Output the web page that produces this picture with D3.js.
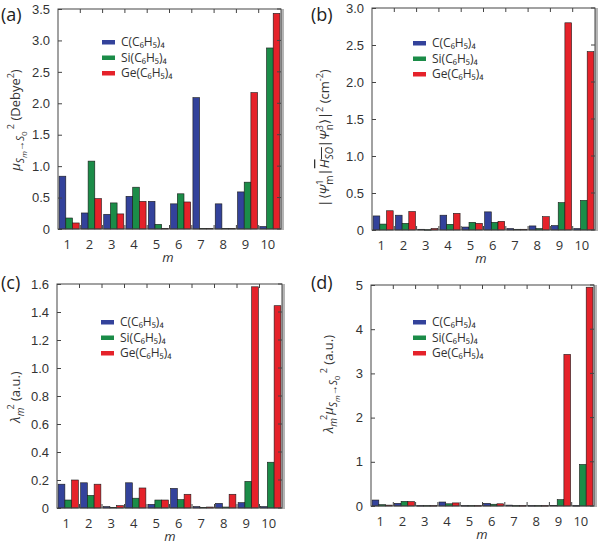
<!DOCTYPE html>
<html><head><meta charset="utf-8">
<script src="https://cdn.jsdelivr.net/npm/d3@7/dist/d3.min.js"></script>
<style>body{margin:0;background:#fff}svg{display:block;font-family:"Open Sans",sans-serif}</style>
</head><body><svg id="c" width="600" height="546"></svg>
<script>
const categories = [1,2,3,4,5,6,7,8,9,10];
const seriesNames = ["C(C₆H₅)₄","Si(C₆H₅)₄","Ge(C₆H₅)₄"];
const colors = ["#33429b","#1b8c48","#e5222a"];

// (a) mu^2 (Debye^2)
const aC  = [0.84,0.255,0.234,0.52,0.44,0.40,2.09,0.40,0.59,0.04];
const aSi = [0.175,1.08,0.415,0.665,0.074,0.56,0.01,0.01,0.745,2.88];
const aGe = [0.096,0.484,0.24,0.44,0.01,0.43,0.01,0.01,2.17,3.43];
// (b) |<psi|H_SO|psi>|^2 (cm^-2)
const bC  = [0.19,0.20,0.01,0.20,0.04,0.245,0.02,0.055,0.06,0.02];
const bSi = [0.08,0.09,0.005,0.077,0.104,0.104,0.01,0.02,0.37,0.40];
const bGe = [0.26,0.25,0.02,0.225,0.09,0.117,0.01,0.18,2.80,2.41];
// (c) lambda^2 (a.u.)
const cC  = [0.17,0.18,0.01,0.18,0.026,0.14,0.01,0.033,0.038,0.01];
const cSi = [0.057,0.09,0.005,0.07,0.057,0.06,0.005,0.007,0.19,0.327];
const cGe = [0.20,0.17,0.017,0.143,0.057,0.098,0.007,0.098,1.58,1.445];
// (d) lambda^2 mu^2 (a.u.)
const dC  = [0.135,0.06,0.01,0.09,0.01,0.06,0.02,0.01,0.015,0.01];
const dSi = [0.03,0.105,0.01,0.05,0.01,0.04,0.01,0.01,0.143,0.94];
const dGe = [0.02,0.10,0.01,0.07,0.01,0.05,0.01,0.01,3.43,4.95];

const aTicks = [0,0.5,1.0,1.5,2.0,2.5,3.0,3.5];
const bTicks = [0,0.5,1.0,1.5,2.0,2.5,3.0];
const cTicks = [0,0.2,0.4,0.6,0.8,1.0,1.2,1.4,1.6];
const dTicks = [0,1,2,3,4,5];

const svg = d3.select("#c");

function rich(sel, segs){
  let cur = 0;
  const off = {base:0, sub:4, subsub:7, sup:-6};
  const fs = {base:13, sub:10, subsub:8, sup:9};
  segs.forEach(s=>{
    const k = s.s || "base";
    const target = off[k];
    const ts = sel.append("tspan").text(s.t)
      .attr("dy", target - cur).style("font-size", fs[k]+"px");
    if (s.i) ts.style("font-style","italic");
    if (s.dx) ts.attr("dx", s.dx);
    if (s.o) ts.style("text-decoration","overline");
    cur = target;
  });
}

function panel(cfg){
  const g = svg.append("g");
  const x = d3.scaleBand().domain(categories).range([cfg.left, cfg.right]).paddingInner(0.1).paddingOuter(0.05);
  const xs = d3.scaleBand().domain([0,1,2]).range([0, x.bandwidth()]);
  const y = d3.scaleLinear().domain([0, cfg.ymax]).range([cfg.bottom, cfg.top]);
  const W = cfg.right - cfg.left;

  cfg.data.forEach((arr, si)=>{
    g.selectAll(null).data(arr).join("rect")
      .attr("x",(d,i)=>x(categories[i]) + xs(si))
      .attr("width", xs.bandwidth())
      .attr("y", d=>y(d))
      .attr("height", d=>Math.max(0.6, cfg.bottom - y(d)))
      .attr("fill", colors[si])
      .attr("stroke","#1a1a1a").attr("stroke-width",0.6);
  });

  g.append("rect").attr("x",cfg.right).attr("y",cfg.top).attr("width",3).attr("height",cfg.bottom-cfg.top+1).attr("fill","#b5b5b5");
  g.append("rect").attr("x",cfg.left).attr("y",cfg.top).attr("width",W).attr("height",cfg.bottom-cfg.top)
    .attr("fill","none").attr("stroke","#444").attr("stroke-width",1);

  const yAxis = d3.axisLeft(y).tickValues(cfg.ticks).tickSize(-4).tickPadding(8).tickFormat(cfg.fmt);
  const ya = g.append("g").attr("transform",`translate(${cfg.left},0)`).call(yAxis);
  ya.select(".domain").remove();
  ya.selectAll("line").attr("stroke","#444");
  ya.selectAll("text").style("font-size","13px").attr("fill","#333");
  g.selectAll(null).data(cfg.ticks).join("line")
    .attr("x1",cfg.right).attr("x2",cfg.right-4).attr("y1",d=>y(d)).attr("y2",d=>y(d)).attr("stroke","#444");
  const bounds = categories.slice(1).map(c=>x(c) - x.step()*x.paddingInner()/2);
  g.selectAll(null).data(bounds).join("line")
    .attr("x1",d=>d).attr("x2",d=>d).attr("y1",cfg.top).attr("y2",cfg.top+4).attr("stroke","#444");
  g.selectAll(null).data(bounds).join("line")
    .attr("x1",d=>d).attr("x2",d=>d).attr("y1",cfg.bottom).attr("y2",cfg.bottom-4).attr("stroke","#444");
  g.selectAll(null).data(categories).join("text")
    .attr("x",d=>x(d)+x.bandwidth()/2-2).attr("y",cfg.bottom+20)
    .attr("text-anchor","middle").style("font-size","13px").attr("fill","#333").text(d=>d);
  g.append("text").attr("x",cfg.xlabX).attr("y",cfg.bottom+33).attr("text-anchor","middle")
    .style("font-size","13px").style("font-style","italic").attr("fill","#333").text("m");

  g.append("text").attr("x",cfg.pl[0]).attr("y",cfg.pl[1]).style("font-size","18px").attr("fill","#222").text(cfg.label);

  const t = g.append("text").attr("transform",`translate(${cfg.yt[0]},${cfg.yt[1]}) rotate(-90)`)
    .attr("text-anchor","middle").attr("fill","#333");
  rich(t, cfg.ytitle);

  seriesNames.forEach((n,si)=>{
    const ly = cfg.leg[1] + si*15.5;
    g.append("rect").attr("x",cfg.leg[0]).attr("y",ly-2).attr("width",13).attr("height",4.5).attr("fill",colors[si]);
    g.append("text").attr("x",cfg.leg[0]+19).attr("y",ly+4).attr("fill","#333")
      .style("font-size","12px").text(n);
  });
}

const f1 = d=> d===0 ? "0" : d3.format(".1f")(d);
const muSegs = [{t:"μ",i:true},{t:"S",s:"sub",i:true},{t:"m",s:"subsub",i:true},{t:"→",s:"sub"},{t:"S",s:"sub",i:true},{t:"0",s:"subsub"},{t:" 2",s:"sup"}];

panel({left:58,right:281,top:9,bottom:229,ymax:3.5,ticks:aTicks,fmt:f1,data:[aC,aSi,aGe],
  label:"(a)",pl:[1,21],xlabX:168,leg:[102,42],yt:[20,120],
  ytitle: muSegs.concat([{t:" (Debye"},{t:"2",s:"sup"},{t:")"}])});
panel({left:372,right:595,top:8,bottom:230,ymax:3.0,ticks:bTicks,fmt:f1,data:[bC,bSi,bGe],
  label:"(b)",pl:[311,21],xlabX:481,leg:[413,43],yt:[329,138],
  ytitle:[{t:"|⟨"},{t:"Ψ",i:true},{t:"1",s:"sup"},{t:"m",s:"sub",dx:-5},{t:"|"},{t:"H",i:true,o:true},{t:"SO",s:"sub",i:true,o:true},{t:"|"},{t:"Ψ",i:true},{t:"3",s:"sup"},{t:"n",s:"sub",dx:-5},{t:"⟩|"},{t:"2",s:"sup"},{t:" (cm"},{t:"-2",s:"sup"},{t:")"}]});
panel({left:57,right:282,top:284,bottom:508,ymax:1.6,ticks:cTicks,fmt:f1,data:[cC,cSi,cGe],
  label:"(c)",pl:[1,289],xlabX:170,leg:[101,322],yt:[20,397],
  ytitle:[{t:"λ",i:true},{t:"m",s:"sub",i:true},{t:"2",s:"sup",dx:-2},{t:" (a.u.)"}]});
panel({left:371,right:594,top:285,bottom:506,ymax:5,ticks:dTicks,fmt:d3.format("d"),data:[dC,dSi,dGe],
  label:"(d)",pl:[311,289],xlabX:482,leg:[413,322],yt:[333,384],
  ytitle:[{t:"λ",i:true},{t:"m",s:"sub",i:true},{t:"2",s:"sup",dx:-2},{t:"μ",i:true},{t:"S",s:"sub",i:true},{t:"m",s:"subsub",i:true},{t:"→",s:"sub"},{t:"S",s:"sub",i:true},{t:"0",s:"subsub"},{t:" 2",s:"sup"},{t:" (a.u.)"}]});
</script></body></html>
